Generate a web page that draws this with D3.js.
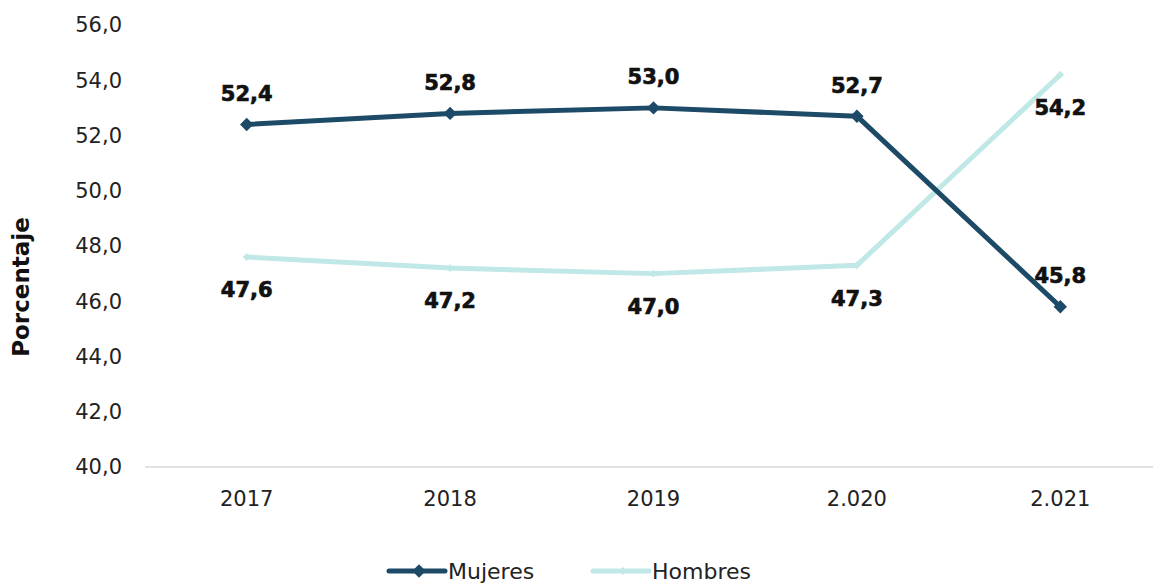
<!DOCTYPE html>
<html>
<head>
<meta charset="utf-8">
<script src="https://cdn.jsdelivr.net/npm/d3@7"></script>
<style>
  body { margin: 0; background: #fff; }
  text { font-family: "DejaVu Sans", sans-serif; }
</style>
</head>
<body>
<div id="chart"></div>
<script>
const years = ['2017', '2018', '2019', '2.020', '2.021'];
const mujeres = [52.4, 52.8, 53.0, 52.7, 45.8];
const hombres = [47.6, 47.2, 47.0, 47.3, 54.2];
const yTicks = [40, 42, 44, 46, 48, 50, 52, 54, 56];

const W = 1153, H = 583;
const fmt = v => v.toFixed(1).replace('.', ',');

const svg = d3.select('#chart').append('svg')
  .attr('width', W)
  .attr('height', H);

const x = d3.scaleBand().domain(years).range([145, 1162]);
const y = d3.scaleLinear().domain([40, 56]).range([467, 25]);
const cx = d => x(d) + x.bandwidth() / 2;

// x axis line
svg.append('line')
  .attr('x1', 145).attr('x2', 1162)
  .attr('y1', y(40)).attr('y2', y(40))
  .attr('stroke', '#d9d9d9').attr('stroke-width', 1.5);

// y tick labels
svg.append('g').selectAll('text')
  .data(yTicks)
  .join('text')
  .attr('x', 122)
  .attr('y', d => y(d))
  .attr('dy', '0.35em')
  .attr('text-anchor', 'end')
  .style('font-size', '21px')
  .attr('fill', '#222')
  .text(d => fmt(d));

// x tick labels
svg.append('g').selectAll('text')
  .data(years)
  .join('text')
  .attr('x', d => cx(d))
  .attr('y', 506)
  .attr('text-anchor', 'middle')
  .style('font-size', '21px')
  .attr('fill', '#222')
  .text(d => d);

// axis title
svg.append('text')
  .attr('transform', 'translate(29,287) rotate(-90)')
  .attr('text-anchor', 'middle')
  .style('font-size', '23px')
  .style('font-weight', 700)
  .attr('fill', '#111')
  .text('Porcentaje');

const series = [
  { name: 'Mujeres', values: mujeres, color: '#1d4a66', marker: 9.5, labelDy: -31 },
  { name: 'Hombres', values: hombres, color: '#bfe8e6', marker: 5.5, labelDy: 33 }
];

// square rotated 45deg, reads like Excel's diamond marker
const diamond = s => d3.symbol(d3.symbolSquare, s * s)();

const line = d3.line()
  .x(d => cx(d.year))
  .y(d => y(d.value));

series.slice().reverse().forEach(s => {
  const pts = s.values.map((v, i) => ({ year: years[i], value: v }));
  svg.append('path')
    .datum(pts)
    .attr('d', line)
    .attr('fill', 'none')
    .attr('stroke', s.color)
    .attr('stroke-width', 5)
    .attr('stroke-linejoin', 'round');

  svg.append('g').selectAll('path')
    .data(pts)
    .join('path')
    .attr('d', diamond(s.marker))
    .attr('transform', d => `translate(${cx(d.year)},${y(d.value)}) rotate(45)`)
    .attr('fill', s.color);
});

series.forEach(s => {
  svg.append('g').selectAll('text')
    .data(s.values.map((v, i) => ({ year: years[i], value: v })))
    .join('text')
    .attr('x', d => cx(d.year))
    .attr('y', d => y(d.value) + s.labelDy)
    .attr('dy', '0.35em')
    .attr('text-anchor', 'middle')
    .style('font-size', '21px')
    .style('font-weight', 700)
    .attr('fill', '#111')
    .attr('stroke', '#111')
    .attr('stroke-width', 0.7)
    .text(d => fmt(d.value));
});

// legend
const legend = svg.append('g').attr('transform', 'translate(389,571)');
series.forEach((s, i) => {
  const g = legend.append('g').attr('transform', `translate(${i * 204},0)`);
  g.append('line')
    .attr('x1', 0).attr('x2', 56)
    .attr('stroke', s.color).attr('stroke-width', 5)
    .attr('stroke-linecap', 'round');
  g.append('path')
    .attr('d', diamond(s.marker))
    .attr('transform', 'translate(30,0) rotate(45)')
    .attr('fill', s.color);
  g.append('text')
    .attr('x', 59)
    .attr('y', 0)
    .attr('dy', '0.35em')
    .style('font-size', '22px')
    .attr('fill', '#222')
    .text(s.name);
});
</script>
</body>
</html>
